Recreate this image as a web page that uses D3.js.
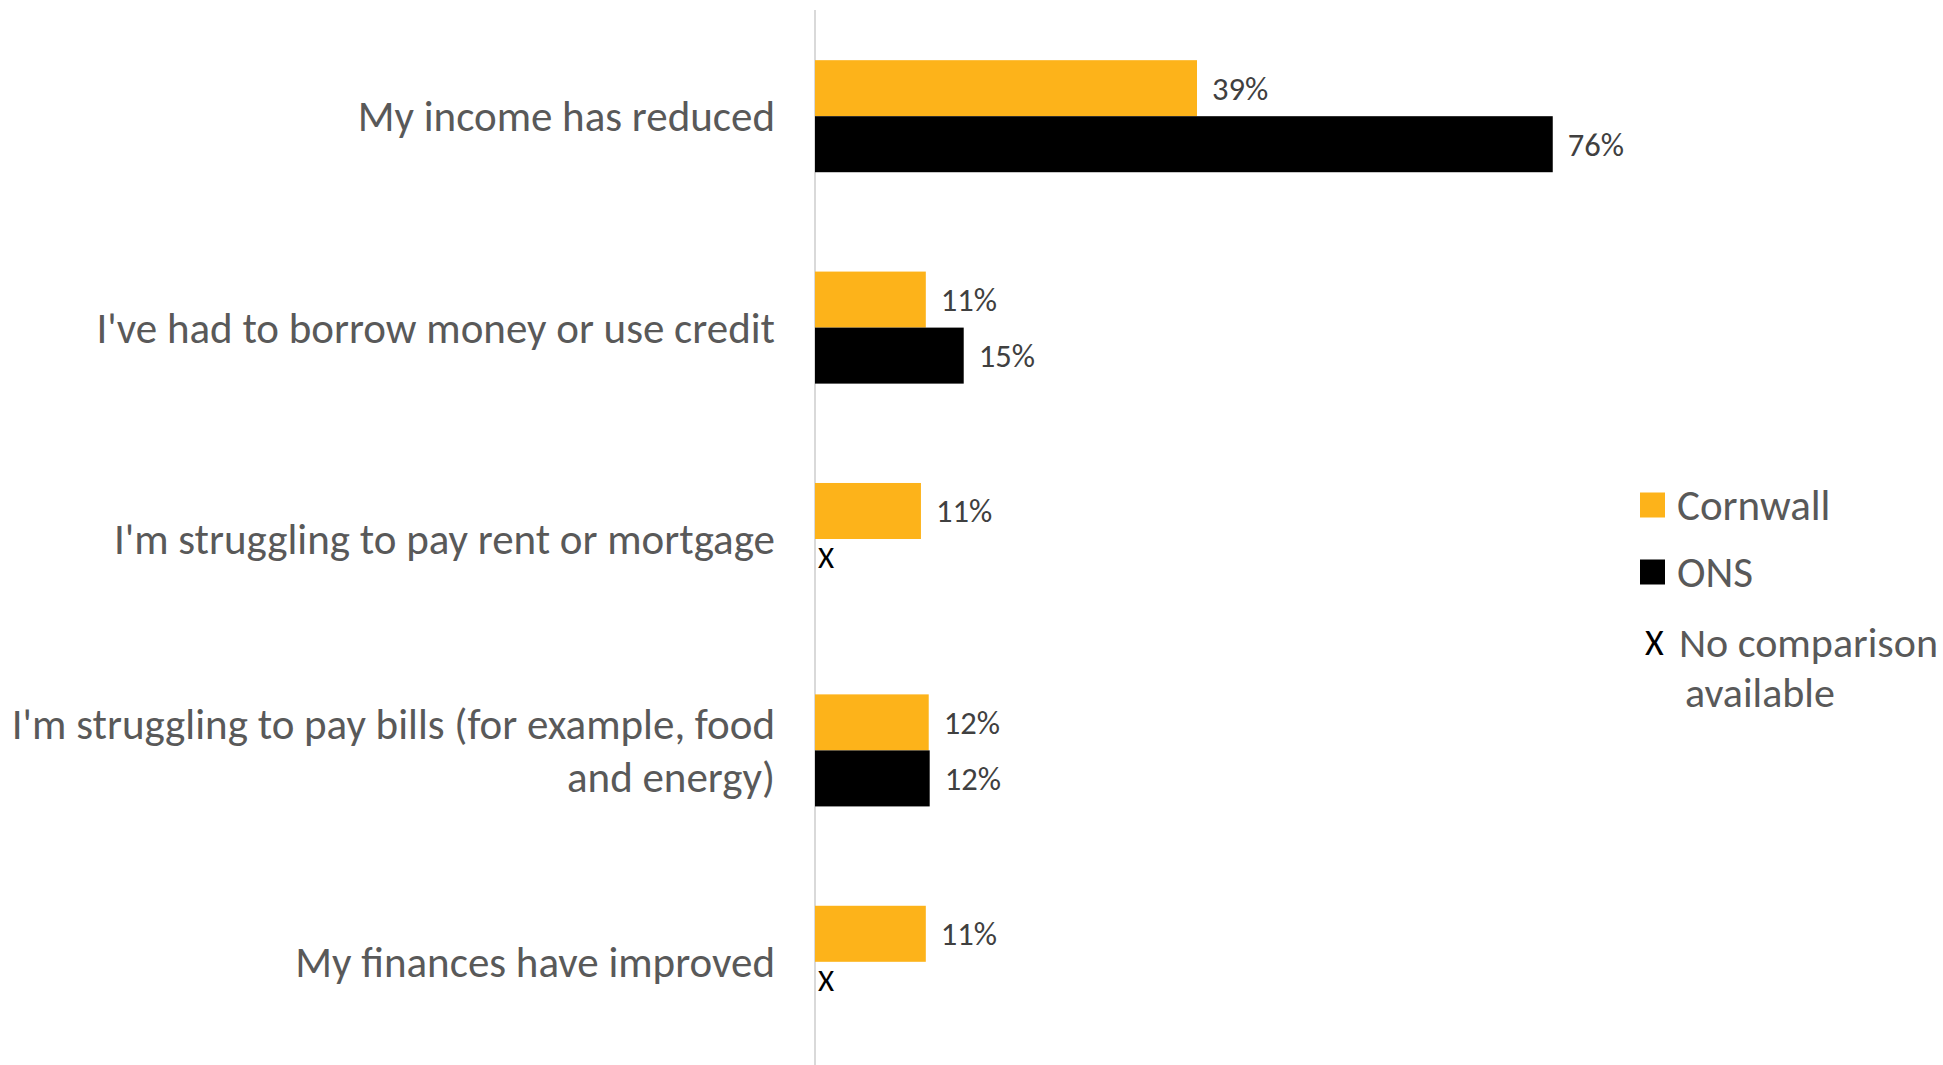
<!DOCTYPE html>
<meta charset="utf-8">
<style>
  body { margin: 0; background: #fff; }
  svg { font-family: Calibri, Carlito, Lato, sans-serif; }
  .cat text { fill: #595959; }
  .val { fill: #404040; }
  .legend text { fill: #595959; }
</style>
<body>
<script src="https://d3js.org/d3.v7.min.js"></script>
<script>

// categories, each split into its display lines
var categories = [
  ["My income has reduced"],
  ["I've had to borrow money or use credit"],
  ["I'm struggling to pay rent or mortgage"],
  ["I'm struggling to pay bills (for example, food", "and energy)"],
  ["My finances have improved"]
];
var cornwall = [39.3, 11.4, 10.9, 11.7, 11.4];
var ons = [75.9, 15.3, null, 11.8, null];
var seriesNames = ["Cornwall", "ONS"];
var seriesColors = ["#fdb31a", "#000000"];
var noCompLabel = ["No comparison", "available"];

var width = 1943, height = 1065;

var svg = d3.select("body").append("svg")
    .attr("width", width)
    .attr("height", height);

var y = d3.scaleBand()
    .domain(d3.range(categories.length))
    .range([10.5, 1067.5])
    .paddingInner(0.47)
    .paddingOuter(0.235);

var sub = d3.scaleBand()
    .domain([0, 1])
    .range([0, y.bandwidth()]);

var x = d3.scaleLinear()
    .domain([0, 80])
    .range([815, 815 + 80 * 9.72]);

var fmt = function(v) { return d3.format(".0f")(v) + "%"; };

// vertical axis line
svg.append("line")
    .attr("x1", x(0)).attr("x2", x(0))
    .attr("y1", 10).attr("y2", height)
    .attr("stroke", "#d9d9d9")
    .attr("stroke-width", 2);

// category labels
var cat = svg.append("g").attr("class", "cat")
  .selectAll("text")
  .data(categories)
  .enter().append("text")
    .attr("text-anchor", "end")
    .attr("x", 775)
    .attr("y", function(d, i) { return y(i) + y.bandwidth() / 2; })
    .style("font-size", "43px");

cat.selectAll("tspan")
  .data(function(d) { return d.map(function(t, j) { return {t: t, j: j, n: d.length}; }); })
  .enter().append("tspan")
    .attr("x", 775)
    .attr("dy", function(d) {
      if (d.j == 0) return (0.35 - (d.n - 1) * 1.24 / 2) + "em";
      return "1.24em";
    })
    .text(function(d) { return d.t; });

// bars
var rows = categories.map(function(c, i) {
  return [{s: 0, i: i, v: cornwall[i]}, {s: 1, i: i, v: ons[i]}];
});
var all = [].concat.apply([], rows);

svg.append("g")
  .selectAll("rect")
  .data(all.filter(function(d) { return d.v != null; }))
  .enter().append("rect")
    .attr("x", x(0))
    .attr("y", function(d) { return y(d.i) + sub(d.s); })
    .attr("width", function(d) { return x(d.v) - x(0); })
    .attr("height", sub.bandwidth())
    .attr("fill", function(d) { return seriesColors[d.s]; });

// value labels
svg.append("g")
  .selectAll("text")
  .data(all.filter(function(d) { return d.v != null; }))
  .enter().append("text")
    .attr("class", "val")
    .attr("x", function(d) { return x(d.v) + 15; })
    .attr("y", function(d) { return y(d.i) + sub(d.s) + sub.bandwidth() / 2; })
    .attr("dy", "0.35em")
    .style("font-size", "32.5px")
    .text(function(d) { return fmt(d.v); });

// X markers where there is no ONS value
svg.append("g")
  .selectAll("text")
  .data(all.filter(function(d) { return d.v == null; }))
  .enter().append("text")
    .attr("x", x(0) + 3)
    .attr("y", function(d) { return y(d.i) + sub(d.s); })
    .attr("dy", "0.95em")
    .attr("fill", "#000")
    .style("font-size", "31px")
    .text("X");

// legend
var legend = svg.append("g").attr("class", "legend");
seriesNames.forEach(function(name, k) {
  var ly = 505 + k * 67;
  legend.append("rect")
      .attr("x", 1640).attr("y", ly - 12.5)
      .attr("width", 25).attr("height", 25)
      .attr("fill", seriesColors[k]);
  legend.append("text")
      .attr("x", 1677).attr("y", ly)
      .attr("dy", "0.35em")
      .style("font-size", "43px")
      .text(name);
});
legend.append("text")
    .attr("x", 1645).attr("y", 642)
    .attr("dy", "0.35em")
    .style("fill", "#000")
    .style("font-size", "36px")
    .text("X");
legend.append("text")
    .attr("x", 1679).attr("y", 642)
    .attr("dy", "0.35em")
    .style("font-size", "42px")
    .text(noCompLabel[0]);
legend.append("text")
    .attr("x", 1685).attr("y", 692)
    .attr("dy", "0.35em")
    .style("font-size", "42px")
    .text(noCompLabel[1]);

</script>
